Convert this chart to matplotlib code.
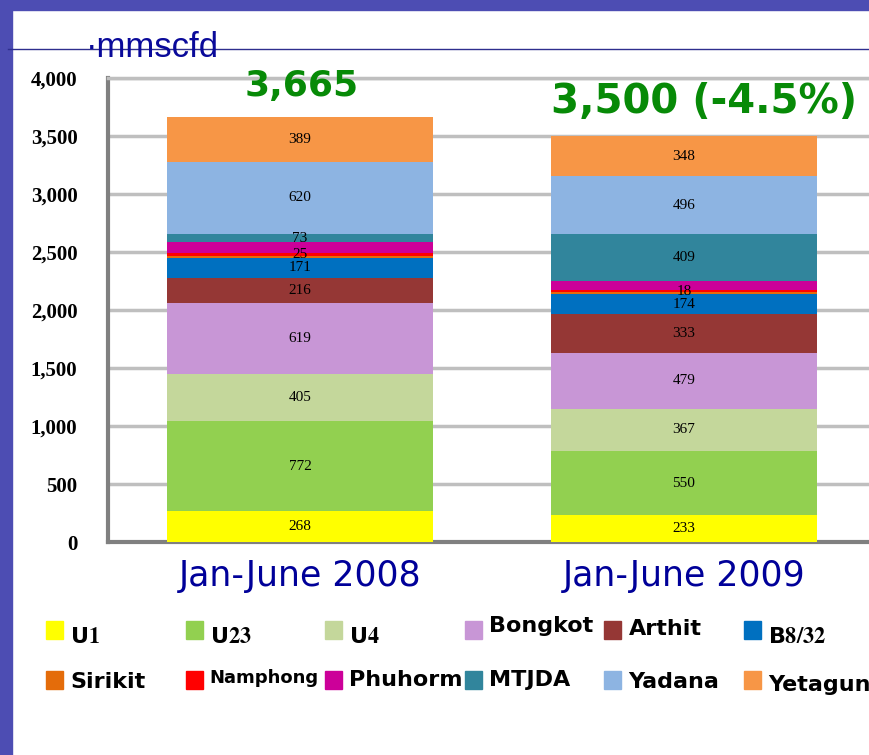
import re
import matplotlib
matplotlib.use('Agg')
import matplotlib.pyplot as plt
from matplotlib.patches import Rectangle
from matplotlib.lines import Line2D
import numpy as np

# data (mmscfd)
periods = ['Jan-June 2008', 'Jan-June 2009']
totals_text = ['3,665', '3,500 (-4.5%)']
names = ['U1', 'U23', 'U4', 'Bongkot', 'Arthit', 'B8/32',
         'Sirikit', 'Namphong', 'Phuhorm', 'MTJDA', 'Yadana', 'Yetagun']
u1 = [268, 233]
u23 = [772, 550]
u4 = [405, 367]
bongkot = [619, 479]
arthit = [216, 333]
b832 = [171, 174]
sirikit = [14, 15]
namphong = [25, 18]
phuhorm = [93, 78]
mtjda = [73, 409]
yadana = [620, 496]
yetagun = [389, 348]
series = [u1, u23, u4, bongkot, arthit, b832, sirikit, namphong, phuhorm, mtjda, yadana, yetagun]
unlabelled = ['Sirikit', 'Phuhorm']
yticks = [0, 500, 1000, 1500, 2000, 2500, 3000, 3500, 4000]

colors = ['#FFFF00', '#92D050', '#C4D79B', '#C896D6', '#953735', '#0070C0',
          '#E46C0A', '#FF0000', '#CC0099', '#31859C', '#8DB4E2', '#F79646']

plt.rcParams['mathtext.fontset'] = 'stix'

W, H = 870, 755
fig = plt.figure(figsize=(W / 100, H / 100), dpi=100)
fig.patch.set_facecolor('white')

# slide background strips
fig.patches.append(Rectangle((0, 0), 12 / W, 1, transform=fig.transFigure,
                             color='#4D4DB3', zorder=0))
fig.patches.append(Rectangle((0, 1 - 10 / H), 1, 10 / H, transform=fig.transFigure,
                             color='#4D4DB3', zorder=0))
fig.lines.append(Line2D([8 / W, 1], [1 - 49 / H, 1 - 49 / H], transform=fig.transFigure,
                        color='#2E2E8E', lw=1, zorder=1))
fig.text(86 / W, 1 - 57 / H, '·mmscfd', family='Liberation Sans', fontsize=25,
         color='#0A0A9A', va='baseline', ha='left', zorder=3)

ax = fig.add_axes([108 / W, 1 - 542 / H, 768 / W, 464 / H])
ax.set_facecolor('none')
x = np.arange(len(periods))
bottom = np.zeros(len(periods))
for name, vals, c in zip(names, series, colors):
    bars = ax.bar(x, vals, 0.693, bottom=bottom, color=c, zorder=3, label=name)
    labels = ['' if name in unlabelled else str(v) for v in vals]
    ax.bar_label(bars, labels=labels, label_type='center', family='Liberation Serif',
                 fontsize=11, color='black', zorder=4)
    bottom += np.array(vals)

# totals on top of bars
offsets = [2, 20]
sizes = [26, 29]
for xi, tot, txt, dx, fs in zip(x, bottom, totals_text, offsets, sizes):
    ax.annotate(txt, (xi, tot), xytext=(dx, 14), textcoords='offset pixels',
                ha='center', va='bottom', fontsize=fs, fontweight='bold',
                color='#078A07', family='DejaVu Sans', annotation_clip=False)

ax.set_xlim(-0.5, 1.5)
ax.set_ylim(0, 4000)
ax.set_yticks(yticks)
ax.set_yticklabels([f'{v:,}' for v in yticks], family='Liberation Serif',
                   fontweight='bold', fontsize=15)
ax.set_xticks(x)
ax.set_xticklabels(periods, fontsize=25, color='#000099', family='DejaVu Sans')
ax.tick_params(axis='y', length=0, pad=22)
ax.tick_params(axis='x', length=0, pad=12)
ax.grid(axis='y', color='#BFBFBF', lw=2.5, zorder=1)
ax.set_axisbelow(True)
ax.spines['right'].set_visible(False)
ax.spines['top'].set_color('#BFBFBF')
ax.spines['top'].set_linewidth(2.5)
ax.spines['left'].set_color('#808080')
ax.spines['left'].set_linewidth(3)
ax.spines['bottom'].set_color('#808080')
ax.spines['bottom'].set_linewidth(3)

# legend drawn by hand, 6 columns x 2 rows
base_y = [[643, 643, 643, 632, 635, 643], [688, 683, 686, 686, 688, 691]]
for i, (name, c) in enumerate(zip(names, colors)):
    row, col = divmod(i, 6)
    mx = 46 + 139.6 * col
    my = 621 + 50 * row
    fig.patches.append(Rectangle((mx / W, 1 - (my + 18) / H), 17 / W, 18 / H,
                                 transform=fig.transFigure, color=c))
    label = re.sub(r'(\d[\d/]*)', r'$\\mathbf{\1}$', name)
    fs = 13 if name == 'Namphong' else 16
    fig.text((mx + 24) / W, 1 - base_y[row][col] / H, label, fontsize=fs,
             fontweight='bold', family='DejaVu Sans', va='baseline', ha='left')

fig.savefig('out.png', dpi=100)
